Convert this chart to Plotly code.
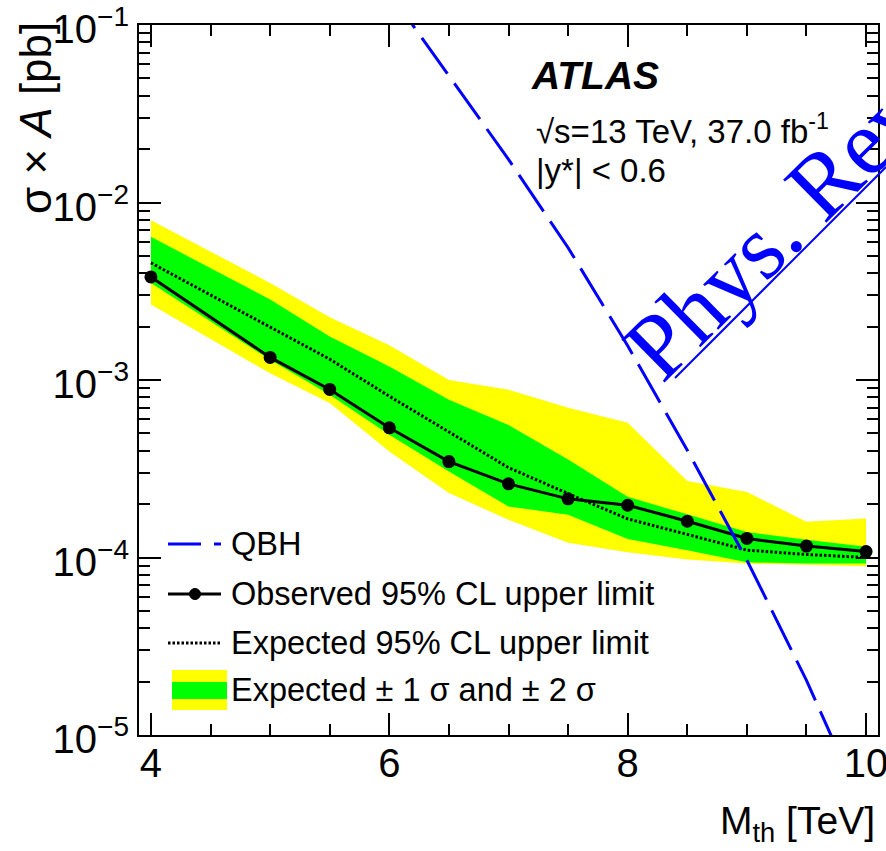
import plotly.graph_objects as go

# Threshold mass points [TeV]
mass = [4.0, 5.0, 5.5, 6.0, 6.5, 7.0, 7.5, 8.0, 8.5, 9.0, 9.5, 10.0]

# 95% CL upper limits on sigma x A [pb]
observed = [3.81e-3, 1.34e-3, 8.85e-4, 5.38e-4, 3.47e-4, 2.60e-4,
            2.14e-4, 1.97e-4, 1.60e-4, 1.28e-4, 1.16e-4, 1.08e-4]
expected = [4.57e-3, 2.00e-3, 1.31e-3, 8.10e-4, 5.08e-4, 3.21e-4,
            2.29e-4, 1.65e-4, 1.35e-4, 1.10e-4, 1.04e-4, 1.00e-4]

# Expected +-1 sigma and +-2 sigma bands
exp_plus2 = [7.94e-3, 3.52e-3, 2.26e-3, 1.57e-3, 1.00e-3, 8.81e-4,
             6.98e-4, 5.75e-4, 2.70e-4, 2.34e-4, 1.59e-4, 1.66e-4]
exp_plus1 = [6.41e-3, 2.84e-3, 1.76e-3, 1.19e-3, 7.74e-4, 5.58e-4,
             3.56e-4, 2.20e-4, 1.75e-4, 1.39e-4, 1.26e-4, 1.15e-4]
exp_minus1 = [3.52e-3, 1.30e-3, 8.26e-4, 4.92e-4, 3.05e-4, 1.94e-4,
              1.74e-4, 1.27e-4, 1.10e-4, 9.40e-5, 9.25e-5, 9.25e-5]
exp_minus2 = [2.66e-3, 1.09e-3, 7.41e-4, 3.95e-4, 2.31e-4, 1.63e-4,
              1.21e-4, 1.07e-4, 9.75e-5, 9.25e-5, 9.06e-5, 8.93e-5]

# Quantum black hole signal prediction
qbh_mass = [6.0, 6.5, 7.0, 7.5, 8.0, 8.5, 9.0, 9.5, 10.0]
qbh_xsec = [1.53e-1, 5.2e-2, 1.75e-2, 5.56e-3, 1.56e-3, 4.02e-4,
            9.66e-5, 2.03e-5, 3.6e-6]

y_ticks = [1e-5, 1e-4, 1e-3, 1e-2, 1e-1]
y_ticktext = ["10<sup>\u22125</sup>", "10<sup>\u22124</sup>", "10<sup>\u22123</sup>",
              "10<sup>\u22122</sup>", "10<sup>\u22121</sup>"]

W, H = 886, 851
L, R, T, B = 139, 8, 25, 116
PW, PH = W - L - R, H - T - B

FONT = "Liberation Sans, Arial, Helvetica, sans-serif"
YELLOW = "#ffff00"
GREEN = "#00ff00"
BLUE = "#0000ff"


def px(x):
    return (x - L) / PW


def py(y):
    return (H - B - y) / PH


fig = go.Figure()

fig.add_trace(go.Scatter(
    x=mass + mass[::-1], y=exp_plus2 + exp_minus2[::-1],
    fill="toself", fillcolor=YELLOW, mode="lines", line=dict(width=0),
    hoverinfo="skip", showlegend=False))
fig.add_trace(go.Scatter(
    x=mass + mass[::-1], y=exp_plus1 + exp_minus1[::-1],
    fill="toself", fillcolor=GREEN, mode="lines", line=dict(width=0),
    hoverinfo="skip", showlegend=False))
fig.add_trace(go.Scatter(
    x=mass, y=expected, mode="lines",
    line=dict(color="black", width=3, dash="2.5px,2px"), showlegend=False))
fig.add_trace(go.Scatter(
    x=mass, y=observed, mode="lines+markers",
    line=dict(color="black", width=3),
    marker=dict(color="black", size=13), showlegend=False))
fig.add_trace(go.Scatter(
    x=qbh_mass, y=qbh_xsec, mode="lines",
    line=dict(color=BLUE, width=3, dash="44px,12px"), showlegend=False))

axis_common = dict(
    showline=True, linecolor="black", linewidth=2, mirror="allticks",
    ticks="inside", ticklen=22, tickwidth=2, tickcolor="black",
    showgrid=False, zeroline=False, ticklabeloverflow="allow",
    automargin=False,
    tickfont=dict(family=FONT, size=40, color="black"),
)

fig.update_xaxes(
    range=[3.9, 10.1], tick0=4, dtick=2, ticklabelstandoff=-8,
    minor=dict(dtick=0.5, tick0=4, ticks="inside", ticklen=11,
               tickwidth=2, tickcolor="black", showgrid=False),
    **axis_common)

minor_y = [k * 10.0 ** e for e in range(-5, -1) for k in range(2, 10)]
fig.update_yaxes(
    type="log", range=[-5, -1], tickmode="array",
    tickvals=y_ticks, ticktext=y_ticktext, ticklabelshift=4,
    minor=dict(tickmode="array", tickvals=minor_y, ticks="inside", ticklen=11,
               tickwidth=2, tickcolor="black", showgrid=False),
    **axis_common)


def note(text, x, y, size, xanchor="left", yanchor="middle", **kw):
    return dict(text=text, x=px(x), y=py(y), xref="paper", yref="paper",
                xanchor=xanchor, yanchor=yanchor, showarrow=False,
                font=dict(family=kw.pop("family", FONT), size=size,
                          color=kw.pop("color", "black")), **kw)


annotations = [
    # axis titles
    note("\u03c3 \u00d7 <i>A</i> [pb]", 35, 20, 44,
         xanchor="center", yanchor="top", textangle=-90),
    note("M<sub>th</sub> [TeV]", 877, 823, 39, xanchor="right"),
    # experiment label
    note("<b><i>ATLAS</i></b>", 529, 75, 39),
    note("\u221as=13 TeV, 37.0 fb<sup>-1</sup>", 534, 129, 33),
    note("|y*| < 0.6", 534, 171, 33),
    # journal stamp
    note("Phys. Rev", 775, 230, 93, xanchor="center", textangle=-44.6,
         family="Liberation Serif, Times New Roman, serif", color=BLUE),
]

legend_rows = [
    ("QBH", 544),
    ("Observed 95% CL upper limit", 594),
    ("Expected 95% CL upper limit", 643),
    ("Expected \u00b1 1 \u03c3 and \u00b1 2 \u03c3", 690),
]
for label, yc in legend_rows:
    annotations.append(note(label, 229, yc, 32.5))

shapes = [
    # legend symbols
    dict(type="line", xref="paper", yref="paper",
         x0=px(168), x1=px(221), y0=py(544), y1=py(544),
         line=dict(color=BLUE, width=3, dash="33px,13px")),
    dict(type="line", xref="paper", yref="paper",
         x0=px(168), x1=px(221), y0=py(594), y1=py(594),
         line=dict(color="black", width=3)),
    dict(type="circle", xref="paper", yref="paper",
         x0=px(189.5), x1=px(200.5), y0=py(588.5), y1=py(599.5),
         fillcolor="black", line=dict(color="black", width=1)),
    dict(type="line", xref="paper", yref="paper",
         x0=px(168), x1=px(221), y0=py(643), y1=py(643),
         line=dict(color="black", width=3, dash="2.5px,2px")),
    dict(type="rect", xref="paper", yref="paper",
         x0=px(172), x1=px(227), y0=py(710), y1=py(670),
         fillcolor=YELLOW, line=dict(width=0)),
    dict(type="rect", xref="paper", yref="paper",
         x0=px(172), x1=px(227), y0=py(699), y1=py(682),
         fillcolor=GREEN, line=dict(width=0)),
    # underline of the journal stamp
    dict(type="line", xref="paper", yref="paper",
         x0=px(675), x1=px(886), y0=py(378), y1=py(167),
         line=dict(color=BLUE, width=2)),
]

fig.update_layout(
    width=W, height=H,
    margin=dict(l=L, r=R, t=T, b=B, pad=0),
    paper_bgcolor="white", plot_bgcolor="white",
    font=dict(family=FONT, color="black"),
    showlegend=False,
    annotations=annotations,
    shapes=shapes,
)

fig.write_html("out.html")
